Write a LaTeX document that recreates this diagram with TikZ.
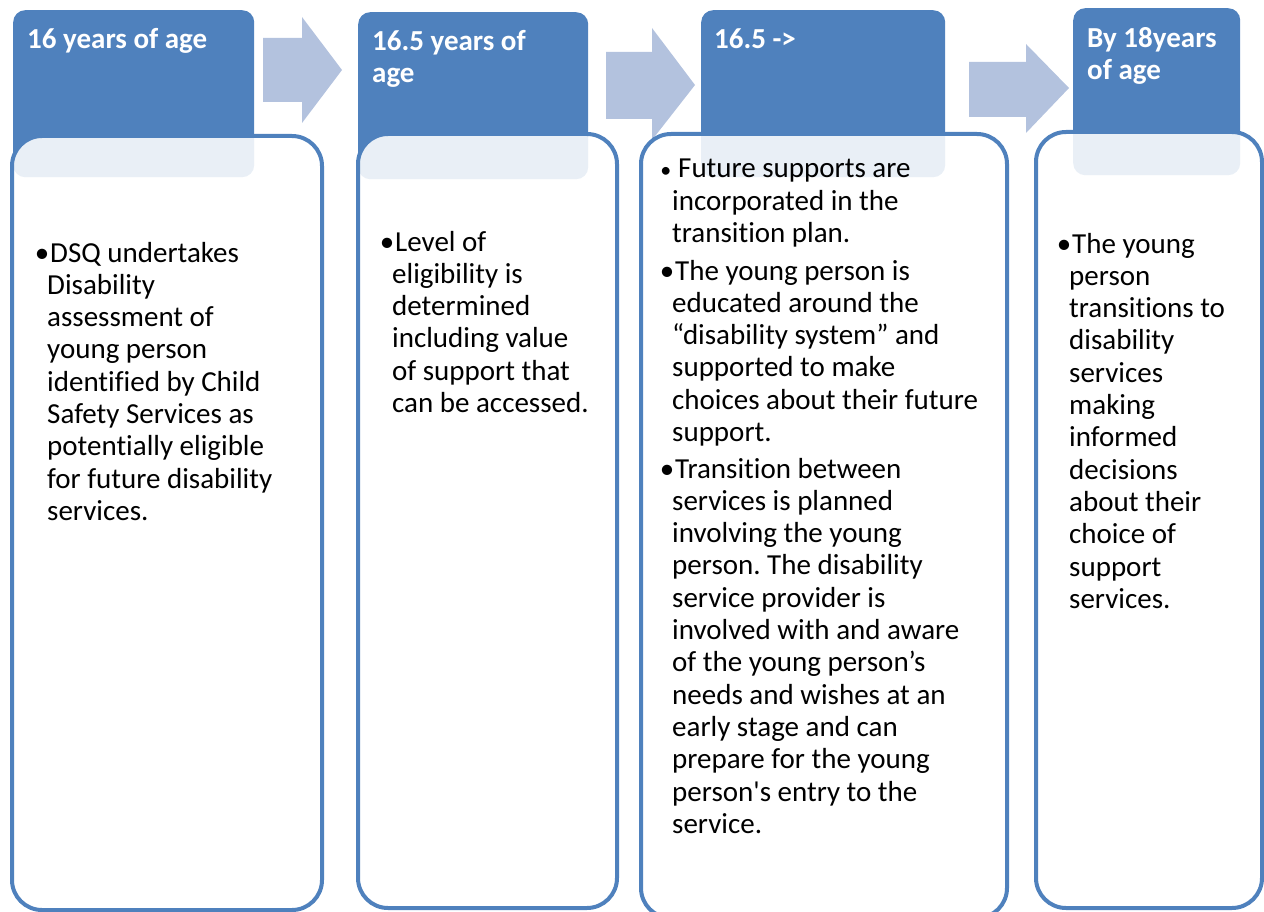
\documentclass[tikz,border=0pt]{standalone}
\usepackage{fontspec}
\setmainfont{Carlito}
% plain family without TeX input ligatures, so ' stays a straight apostrophe
\newfontfamily\cardfont{Carlito}[Ligatures=NoCommon]
\definecolor{hdrblue}{RGB}{79,129,189}
\definecolor{arrowblue}{RGB}{179,194,222}
\frenchspacing
\newcommand{\itemdot}{\llap{•\hspace{-2pt}}\hspace{3pt}}

\begin{document}
\begin{tikzpicture}[x=1pt,y=-1pt,
  header/.style={fill=hdrblue, rounded corners=12pt, inner sep=0, anchor=north west},
  card/.style={draw=hdrblue, line width=4pt, fill=white, fill opacity=0.88,
               draw opacity=1, rounded corners=30pt, inner sep=0, anchor=north west},
  chevron/.style={fill=arrowblue},
  % multi-line nodes: the base anchor sits on the last line's baseline
  title/.style={font=\cardfont\fontsize{29}{32.3}\selectfont\bfseries, text=white,
                align=left, inner sep=0, anchor=base west},
  body/.style={font=\cardfont\fontsize{29}{32.3}\selectfont, align=left,
               inner sep=0, anchor=base west}]

\useasboundingbox (0,0) rectangle (1264,912);

% block arrows between the stages
\path[chevron] (263,38) -- (302,38) -- (302,17) -- (342,70) -- (302,123) -- (302,102) -- (263,102) -- cycle;
\path[chevron] (606,52) -- (652,52) -- (652,28) -- (695,85) -- (652,140) -- (652,119) -- (606,119) -- cycle;
\path[chevron] (969,62) -- (1026,62) -- (1026,44) -- (1069,88) -- (1026,133) -- (1026,117) -- (969,117) -- cycle;

% stage headers
\node[header, minimum width=241pt, minimum height=167pt] (h1) at (13,10) {};
\node[header, minimum width=230pt, minimum height=167pt] (h2) at (358,12) {};
\node[header, minimum width=244pt, minimum height=167pt] (h3) at (701,10) {};
\node[header, minimum width=167pt, minimum height=167pt] (h4) at (1073,8) {};

% content cards, partly covering the headers
\node[card, minimum width=310pt, minimum height=774pt] (c1) at (10,134) {};
\node[card, minimum width=259pt, minimum height=774pt] (c2) at (356,132) {};
\node[card, minimum width=366pt, minimum height=784pt] (c3) at (639,132) {};
\node[card, minimum width=226pt, minimum height=776pt] (c4) at (1034,130) {};

% header titles
\node[title] (t1) at (27,49) {16 years of age};
\node[title] (t2) at (372,83) {16.5 years of\\age};
\node[title] (t3) at (714,49) {16.5 ->};
\node[title] (t4) at (1087,79.5) {By 18years\\of age};

% stage descriptions
\node[body] (b1) at (47,520.4) {\itemdot DSQ undertakes\\Disability\\assessment of\\young person\\identified by Child\\Safety Services as\\potentially eligible\\for future disability\\services.};

\node[body] (b2) at (392,412.5) {\itemdot Level of\\eligibility is\\determined\\including value\\of support that\\can be accessed.};

\node[body] (b3a) at (672,242.6) {\llap{\fontsize{22}{22}\selectfont •\hspace{1pt}}\hspace{6pt}Future supports are\\incorporated in the\\transition plan.};
\node[body] (b3b) at (672,441.5) {\itemdot The young person is\\educated around the\\“disability system” and\\supported to make\\choices about their future\\support.};
\node[body] (b3c) at (672,833.3) {\itemdot Transition between\\services is planned\\involving the young\\person. The disability\\service provider is\\involved with and aware\\of the young person’s\\needs and wishes at an\\early stage and can\\prepare for the young\\person's entry to the\\service.};

\node[body] (b4) at (1069,608.3) {\itemdot The young\\person\\transitions to\\disability\\services\\making\\informed\\decisions\\about their\\choice of\\support\\services.};
\end{tikzpicture}
\end{document}
